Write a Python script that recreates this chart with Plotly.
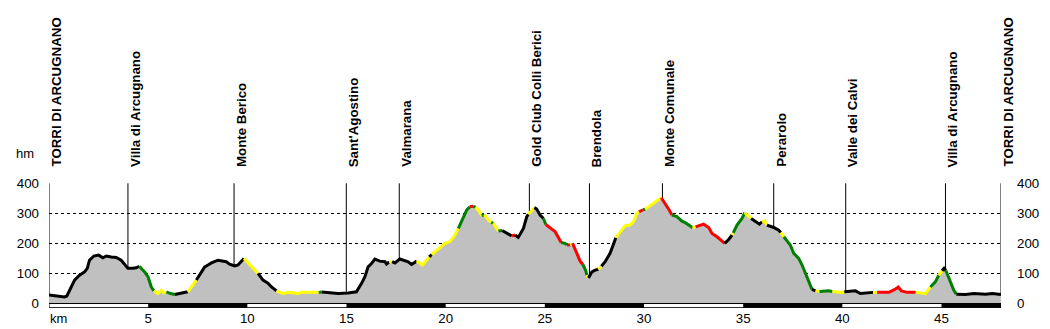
import plotly.graph_objects as go

# ---------------- data ----------------
km = [0.00, 0.40, 0.78, 0.90, 1.12, 1.29, 1.54, 1.79, 1.93, 2.04, 2.26, 2.50, 2.72, 2.89, 3.14, 3.39, 3.64, 3.81, 3.98, 4.23,
      4.40, 4.55, 4.82, 4.99, 5.16, 5.29, 5.49, 5.66, 5.80, 5.92, 6.13, 6.34, 6.84, 7.00, 7.26, 7.43, 7.68, 7.85, 8.02, 8.19,
      8.52, 8.77, 8.94, 9.11, 9.36, 9.53, 9.70, 9.83, 10.04, 10.29, 10.54, 10.79, 11.05, 11.22, 11.47, 11.80, 12.05, 12.56, 12.73, 13.60,
      13.75, 14.24, 14.58, 15.08, 15.50, 15.76, 15.93, 16.09, 16.26, 16.43, 16.68, 16.94, 17.02, 17.15, 17.30, 17.44, 17.69, 17.86, 18.11, 18.28,
      18.54, 18.82, 19.04, 19.17, 19.30, 19.46, 19.71, 19.96, 20.22, 20.47, 20.64, 20.89, 21.06, 21.22, 21.38, 21.50, 21.65, 21.82, 21.95, 22.15,
      22.30, 22.40, 22.66, 22.85, 23.16, 23.33, 23.50, 23.66, 23.92, 24.09, 24.17, 24.34, 24.47, 24.59, 24.76, 24.93, 25.05, 25.27, 25.52, 25.69,
      25.82, 26.02, 26.12, 26.28, 26.40, 26.61, 26.78, 26.92, 27.07, 27.12, 27.20, 27.37, 27.54, 27.70, 27.85, 28.04, 28.29, 28.46, 28.58, 28.80,
      29.05, 29.30, 29.47, 29.64, 29.75, 29.95, 30.06, 30.48, 30.70, 30.87, 31.07, 31.27, 31.41, 31.66, 31.91, 32.08, 32.33, 32.45, 32.60, 32.75,
      33.00, 33.26, 33.43, 33.68, 33.85, 34.07, 34.27, 34.44, 34.50, 34.69, 34.94, 35.08, 35.30, 35.40, 35.61, 35.82, 35.95, 36.08, 36.20, 36.54,
      36.79, 36.90, 37.05, 37.38, 37.55, 37.80, 37.97, 38.14, 38.30, 38.47, 38.65, 38.85, 39.31, 39.50, 39.99, 40.10, 40.66, 40.91, 41.33, 41.55,
      41.75, 42.35, 42.65, 42.82, 42.98, 43.27, 43.70, 44.19, 44.44, 44.69, 44.86, 45.03, 45.13, 45.22, 45.45, 45.62, 45.75, 46.21, 46.63, 47.22,
      47.56, 48.00]

elev = [28, 24, 22, 25, 55, 78, 94, 105, 117, 144, 158, 161, 152, 158, 155, 153, 144, 131, 117, 117,
        119, 124, 105, 89, 55, 42, 33, 44, 35, 39, 33, 30, 35, 39, 61, 78, 105, 122, 128, 135,
        144, 142, 139, 131, 125, 128, 142, 150, 135, 117, 100, 78, 67, 55, 42, 33, 37, 33, 37, 37,
        38, 35, 33, 35, 39, 67, 89, 122, 133, 148, 141, 139, 131, 138, 139, 135, 148, 144, 139, 130,
        141, 128, 144, 155, 163, 172, 189, 200, 206, 228, 250, 289, 311, 322, 324, 320, 311, 292, 296, 278,
        270, 267, 241, 243, 230, 225, 228, 220, 250, 289, 297, 311, 319, 314, 294, 283, 263, 253, 239, 219,
        203, 200, 195, 195, 200, 167, 141, 130, 108, 94, 85, 105, 111, 114, 124, 139, 167, 194, 219, 239,
        259, 261, 272, 300, 305, 312, 314, 333, 344, 352, 333, 311, 294, 289, 274, 269, 258, 252, 255, 258,
        264, 253, 233, 222, 211, 200, 213, 228, 235, 261, 283, 302, 288, 283, 272, 264, 272, 275, 261, 253,
        244, 236, 222, 194, 167, 150, 128, 100, 69, 47, 42, 40, 42, 40, 37, 39, 42, 33, 37, 37,
        37, 37, 47, 55, 42, 37, 37, 33, 55, 72, 94, 109, 117, 110, 72, 44, 31, 30, 33, 31,
        33, 30]

# gradient class of the segment that starts at each point (K black, Y yellow, G green, R red)
grade = list(
    "KKKKKKKKKKKKKKKKKKKK"
    "KGGGGYYYYGGKKYYKKKKK"
    "KKKKKKKYYYKKKKYYYYYG"
    "KKKKKKKKKKKKKYKKKKKK"
    "YYYKYYYYYYGGGRGYYGYY"
    "GYGKKRKKKKYYKKKGRRRR"
    "GGRYRRRGGYKKKYKKKKYY"
    "YYYYRGYYYRRRGGGGGYRR"
    "RRRRRKKYGGGYYKKKYYKK"
    "KYGGGGGGGKYGGYYKKKKY"
    "RRRRRRYYGGYKKGGGKKKK"
    "KK"
)

tick_km = [5, 10, 15, 20, 25, 30, 35, 40, 45]
elev_ticks = [0, 100, 200, 300, 400]

wp_names = ["TORRI DI ARCUGNANO", "Villa di Arcugnano", "Monte Berico", "Sant'Agostino", "Valmarana",
            "Gold Club Colli Berici", "Brendola", "Monte Comunale", "Perarolo", "Valle dei Calvi",
            "Villa di Arcugnano", "TORRI DI ARCUGNANO"]
wp_km = [0.0, 3.98, 9.33, 14.99, 17.66, 24.22, 27.25, 30.93, 36.54, 40.17, 45.2, 48.0]

# ---------------- styles ----------------
COLORS = {"K": "#000000", "Y": "#FFFF00", "G": "#008000", "R": "#FF0000"}
FONT = "Arial, Liberation Sans, sans-serif"
KM_MAX = 48.0
Y_MIN, Y_MAX = -15, 401

fig = go.Figure()

# waypoint vertical lines (behind the profile fill)
shapes = []
for k in wp_km:
    shapes.append(dict(type="line", xref="x", yref="y", x0=k, x1=k, y0=0, y1=400,
                       line=dict(color="black", width=1), layer="between"))

# km bar under the axis
shapes.append(dict(type="rect", xref="x", yref="y", x0=0, x1=KM_MAX, y0=Y_MIN + 1, y1=0,
                   fillcolor="white", line=dict(color="black", width=1), layer="above"))
bounds = [0] + tick_km + [KM_MAX]
for i in range(len(bounds) - 1):
    if i % 2 == 1:
        shapes.append(dict(type="rect", xref="x", yref="y", x0=bounds[i], x1=bounds[i + 1],
                           y0=Y_MIN + 1, y1=0, fillcolor="black", line=dict(width=0), layer="above"))

# filled profile
fig.add_trace(go.Scatter(x=km, y=elev, mode="lines", fill="tozeroy", fillcolor="#C0C0C0",
                         line=dict(width=0, color="#C0C0C0"), hoverinfo="skip", showlegend=False))

# coloured runs of the profile line
start = 0
n = len(km)
for i in range(1, n):
    if i == n - 1 or grade[i] != grade[start]:
        fig.add_trace(go.Scatter(x=km[start:i + 1], y=elev[start:i + 1], mode="lines",
                                 line=dict(color=COLORS[grade[start]], width=3),
                                 hoverinfo="skip", showlegend=False))
        start = i

# dummy trace for the right-hand axis
fig.add_trace(go.Scatter(x=[None], y=[None], yaxis="y2", showlegend=False, hoverinfo="skip"))

annotations = []
for name, k in zip(wp_names, wp_km):
    annotations.append(dict(x=k, y=1, xref="x", yref="paper", text="<b>%s</b>" % name,
                            textangle=-90, showarrow=False, xanchor="left", yanchor="bottom",
                            xshift=-2.5, yshift=14,
                            font=dict(family=FONT, size=13.3, color="black")))
annotations.append(dict(x=0, y=1, xref="paper", yref="paper", text="hm", showarrow=False,
                        xanchor="right", yanchor="middle", xshift=-13, yshift=30,
                        font=dict(family=FONT, size=13, color="black")))
annotations.append(dict(x=0, y=0, xref="paper", yref="paper", text="km", showarrow=False,
                        xanchor="left", yanchor="middle", xshift=-1, yshift=-10,
                        font=dict(family=FONT, size=13, color="black")))

yaxis_common = dict(range=[Y_MIN, Y_MAX], tickvals=elev_ticks, ticks="", showline=False,
                    zeroline=False, tickfont=dict(family=FONT, size=13.3, color="black"),
                    fixedrange=True, automargin=False)

fig.update_layout(
    width=1050, height=329,
    margin=dict(l=49, r=49, t=183, b=21, pad=0, autoexpand=False),
    paper_bgcolor="white", plot_bgcolor="white",
    showlegend=False,
    shapes=shapes,
    annotations=annotations,
    xaxis=dict(range=[0, KM_MAX], tickvals=tick_km, ticks="", showgrid=False, zeroline=False,
               showline=False, tickfont=dict(family=FONT, size=13.3, color="black"),
               ticklabelstandoff=1, automargin=False),
    yaxis=dict(**yaxis_common, side="left", showgrid=True, gridcolor="black", gridwidth=1,
               griddash="3px,3px", ticklabelstandoff=9),
    yaxis2=dict(**yaxis_common, side="right", overlaying="y", showgrid=False, ticklabelstandoff=15),
)

fig.write_html("out.html")
